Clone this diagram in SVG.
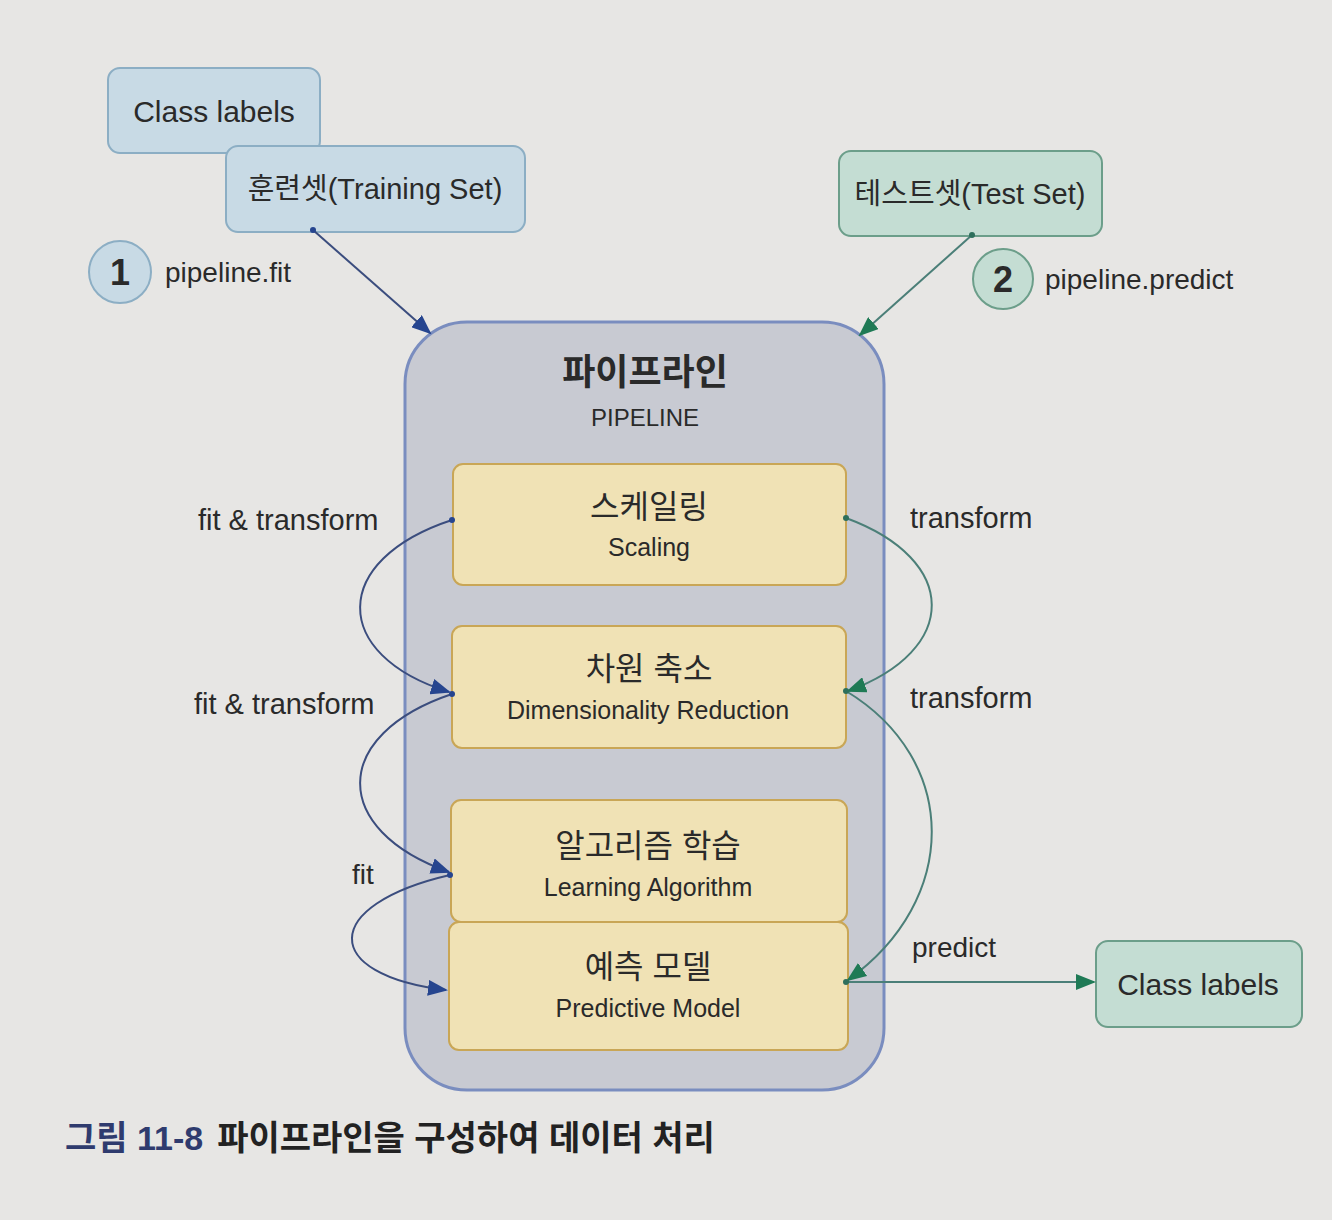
<svg xmlns="http://www.w3.org/2000/svg" width="1332" height="1220" viewBox="0 0 1332 1220">
<defs>
<style>
.t{font-family:"Liberation Sans","Noto Sans CJK KR",sans-serif;fill:#2a2a2a}
.blue{fill:#c8dae5;stroke:#8caec4;stroke-width:2}
.green{fill:#c4ddd3;stroke:#6c9e8a;stroke-width:2}
.step{fill:#f0e2b5;stroke:#c9a656;stroke-width:2}
.navy{fill:none;stroke:#3b4d7e;stroke-width:2}
.teal{fill:none;stroke:#4b7f78;stroke-width:2}
</style>
<marker id="an" viewBox="0 0 20 16" refX="18" refY="8" markerWidth="20" markerHeight="16" markerUnits="userSpaceOnUse" orient="auto"><path d="M0,0 L20,8 L0,16 z" fill="#26458f"/></marker>
<marker id="ag" viewBox="0 0 20 16" refX="18" refY="8" markerWidth="20" markerHeight="16" markerUnits="userSpaceOnUse" orient="auto"><path d="M0,0 L20,8 L0,16 z" fill="#1f7a55"/></marker>
</defs>
<rect width="1332" height="1220" fill="#e7e6e4"/>

<g id="pipeline">
<rect x="405" y="322" width="479" height="768" rx="62" fill="#c8cad2" stroke="#7a8dbf" stroke-width="3"/>
<text class="t" x="645" y="385" font-size="36" font-weight="bold" text-anchor="middle">파이프라인</text>
<text class="t" x="645" y="426" font-size="24" text-anchor="middle">PIPELINE</text>
</g>

<g id="class-labels-in">
<rect class="blue" x="108" y="68" width="212" height="85" rx="12"/>
<text class="t" x="214" y="122" font-size="30" text-anchor="middle">Class labels</text>
</g>
<g id="training-set">
<rect class="blue" x="226" y="146" width="299" height="86" rx="12"/>
<text class="t" x="375" y="199" font-size="29" text-anchor="middle">훈련셋(Training Set)</text>
</g>
<g id="step1">
<circle cx="120" cy="272" r="31" fill="#c8dae5" stroke="#8caec4" stroke-width="2"/>
<text class="t" x="120" y="285" font-size="36" font-weight="bold" text-anchor="middle">1</text>
<text class="t" x="165" y="282" font-size="28">pipeline.fit</text>
</g>

<g id="test-set">
<rect class="green" x="839" y="151" width="263" height="85" rx="12"/>
<text class="t" x="970" y="204" font-size="29" text-anchor="middle">테스트셋(Test Set)</text>
</g>
<g id="step2">
<circle cx="1003" cy="279" r="30" fill="#c4ddd3" stroke="#6c9e8a" stroke-width="2"/>
<text class="t" x="1003" y="292" font-size="36" font-weight="bold" text-anchor="middle">2</text>
<text class="t" x="1045" y="289" font-size="28">pipeline.predict</text>
</g>

<g id="scaling">
<rect class="step" x="453" y="464" width="393" height="121" rx="10"/>
<text class="t" x="649" y="518" font-size="32" text-anchor="middle">스케일링</text>
<text class="t" x="649" y="556" font-size="25" text-anchor="middle">Scaling</text>
</g>
<g id="dimensionality-reduction">
<rect class="step" x="452" y="626" width="394" height="122" rx="10"/>
<text class="t" x="649" y="680" font-size="32" text-anchor="middle">차원 축소</text>
<text class="t" x="648" y="719" font-size="25" text-anchor="middle">Dimensionality Reduction</text>
</g>
<g id="learning-algorithm">
<rect class="step" x="451" y="800" width="396" height="122" rx="10"/>
<text class="t" x="648" y="857" font-size="32" text-anchor="middle">알고리즘 학습</text>
<text class="t" x="648" y="896" font-size="25" text-anchor="middle">Learning Algorithm</text>
</g>
<g id="predictive-model">
<rect class="step" x="449" y="922" width="399" height="128" rx="10"/>
<text class="t" x="648" y="978" font-size="32" text-anchor="middle">예측 모델</text>
<text class="t" x="648" y="1017" font-size="25" text-anchor="middle">Predictive Model</text>
</g>

<g id="class-labels-out">
<rect class="green" x="1096" y="941" width="206" height="86" rx="12"/>
<text class="t" x="1198" y="995" font-size="30" text-anchor="middle">Class labels</text>
</g>

<g id="connectors">
<path class="navy" d="M313,230 L430,333" marker-end="url(#an)"/>
<circle cx="313" cy="230" r="3" fill="#26458f"/>
<path class="teal" d="M972,235 L860,335" marker-end="url(#ag)"/>
<circle cx="972" cy="235" r="3" fill="#2e6f5c"/>

<path class="navy" d="M452,520 C330,560 330,655 449,692" marker-end="url(#an)"/>
<path class="navy" d="M452,694 C330,735 330,830 449,872" marker-end="url(#an)"/>
<path class="navy" d="M450,875 C320,905 320,975 446,990" marker-end="url(#an)"/>
<circle cx="452" cy="520" r="3" fill="#26458f"/>
<circle cx="452" cy="694" r="3" fill="#26458f"/>
<circle cx="450" cy="875" r="3" fill="#26458f"/>

<path class="teal" d="M846,518 C960,560 960,650 848,691" marker-end="url(#ag)"/>
<path class="teal" d="M846,691 C960,760 960,900 848,980" marker-end="url(#ag)"/>
<path class="teal" d="M846,982 L1094,982" marker-end="url(#ag)"/>
<circle cx="846" cy="518" r="3" fill="#2e6f5c"/>
<circle cx="846" cy="691" r="3" fill="#2e6f5c"/>
<circle cx="846" cy="982" r="3" fill="#2e6f5c"/>

<text class="t" x="198" y="530" font-size="29">fit &amp; transform</text>
<text class="t" x="194" y="714" font-size="29">fit &amp; transform</text>
<text class="t" x="352" y="884" font-size="28">fit</text>
<text class="t" x="910" y="528" font-size="29">transform</text>
<text class="t" x="910" y="708" font-size="29">transform</text>
<text class="t" x="912" y="957" font-size="28">predict</text>
</g>

<g id="caption">
<text class="t" x="65" y="1150" font-size="34" font-weight="bold"><tspan fill="#2f3b6e">그림 11-8</tspan><tspan dx="14" fill="#222">파이프라인을 구성하여 데이터 처리</tspan></text>
</g>
</svg>
